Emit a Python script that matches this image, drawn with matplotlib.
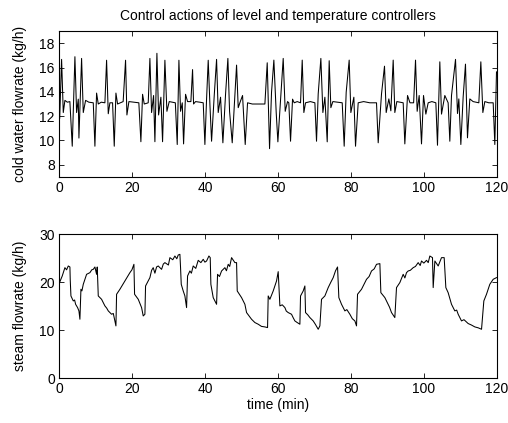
import numpy as np
import matplotlib
matplotlib.use("Agg")
import matplotlib.pyplot as plt

plt.rcParams['font.family'] = ['Liberation Sans', 'DejaVu Sans']
plt.rcParams['font.size'] = 10

# cold water flowrate (level controller output)
cold_t = [0, 0.2, 0.73, 1.19, 1.64, 2.3, 3.0,
          3.65, 4.38, 4.84, 5.3, 5.48, 6.21, 6.67, 7.31, 8.2, 9.41,
          9.86, 10.32, 10.78, 11.6, 12.6, 13.06, 13.52, 13.97, 14.7, 15.16, 15.62, 16.07,
          17.6, 18.26, 18.63, 19.18, 20.5, 21.9, 22.46, 22.92, 23.38,
          24.47, 24.93, 25.39, 25.94, 26.3, 26.85, 27.31, 27.94, 28.4, 29.04, 29.59, 30.23,
          31.9, 32.42, 32.88, 33.33, 33.8, 34.16, 34.7, 35.25,
          36.16, 36.62, 36.9, 37.44, 38.6, 39.54, 40.0, 40.46, 40.91, 41.37, 41.83, 42.56,
          43.2, 43.65, 44.29, 44.93, 45.66, 46.3, 46.76, 47.49, 48.22, 48.68, 49.13,
          49.7, 50.32, 51.05, 51.69, 53.0, 56.44, 57.08, 57.72, 58.26, 58.9, 59.54, 60.0,
          60.82, 61.46, 62.01, 62.65, 63.0, 63.47, 64.02, 64.48, 65.3, 66.21, 66.67, 67.12, 67.58,
          68.9, 70.14, 70.59, 71.05, 71.78, 72.33, 72.88, 73.52, 74.06, 74.52, 75.07,
          76.4, 77.63, 78.17, 78.72, 79.54, 80.0, 80.82, 81.28, 82.01,
          83.5, 85.2, 87.03, 87.49, 88.4, 89.22, 89.68, 90.41, 90.96, 91.6, 92.05, 92.6,
          94.34, 94.79, 95.53, 96.2, 97.2, 97.72, 98.17, 98.72, 99.36, 99.91, 100.55, 101.19,
          102.2, 103.29, 103.74, 104.38, 104.84, 105.75, 106.66, 107.12, 107.58, 108.68, 109.22,
          109.59, 110.14, 110.77, 111.41, 111.96, 112.6, 113.5, 115.07, 115.62, 116.17,
          116.71, 117.8, 119.0, 119.45, 119.91]
cold_v = [13.0, 11.8, 16.67, 12.3, 13.3, 13.15, 13.2,
          9.53, 16.89, 12.3, 13.4, 10.2, 16.75, 12.3, 13.3, 13.15, 13.1,
          9.53, 13.9, 13.0, 13.15, 13.1, 16.6, 12.2, 13.1, 13.1, 9.53, 13.9, 13.0,
          13.2, 16.6, 12.1, 13.2, 13.15, 13.1, 9.9, 13.8, 13.0,
          13.1, 16.75, 12.3, 13.7, 9.9, 17.17, 12.1, 13.56, 9.9, 16.6, 12.4, 13.2,
          13.1, 9.67, 16.6, 12.4, 13.1, 9.72, 13.8, 13.2,
          13.2, 15.83, 13.0, 13.2, 13.15, 13.1, 9.67, 13.4, 16.6, 13.0, 9.94, 13.7,
          16.67, 12.3, 13.56, 9.81, 13.8, 16.75, 12.4, 9.81, 13.8, 16.2, 12.7,
          13.2, 13.7, 9.67, 13.1, 13.0, 13.0, 16.39, 9.33, 13.97, 16.61, 12.3, 9.89,
          13.8, 16.75, 12.4, 13.2, 13.1, 9.94, 13.4, 13.1, 13.2, 13.1, 16.61, 12.3, 13.1,
          13.2, 13.1, 9.94, 13.83, 16.75, 12.3, 13.56, 9.89, 16.56, 12.7, 13.2,
          13.15, 13.1, 9.53, 13.97, 16.61, 12.3, 13.56, 9.53, 13.1,
          13.2, 13.1, 13.1, 9.81, 13.83, 16.11, 12.3, 13.42, 12.44, 16.61, 12.3, 13.2,
          13.1, 9.72, 13.7, 13.1, 13.1, 16.61, 12.4, 13.7, 9.72, 13.7, 12.17, 13.1,
          13.2, 13.1, 9.61, 16.47, 12.17, 13.7, 13.1, 9.94, 13.7, 16.67, 12.22,
          13.42, 9.67, 13.56, 16.28, 10.22, 13.42, 13.2, 13.1, 16.47, 12.3,
          13.2, 13.1, 13.1, 9.67, 15.64]

# steam flowrate (temperature controller output)
steam_t = [0, 0.27, 0.9, 1.64, 2.1, 2.56, 3.01,
           3.1, 3.29, 3.93, 4.3, 4.57, 5.11, 5.48, 5.75,
           6.03, 6.3, 6.67, 7.58, 8.49, 9.0, 9.41, 9.86, 10.32, 10.5,
           10.78, 11.69, 12.6, 13.1, 13.52, 14.43, 14.9, 15.34, 15.62,
           15.8, 16.71, 18.08, 19.45, 20.0, 20.55,
           20.73, 21.74, 22.65, 23.1, 23.56,
           23.74, 24.93, 25.4, 25.84, 26.3, 26.76, 27.21, 28.13, 28.6,
           29.04, 30.0, 30.41, 31.2, 31.78, 32.3, 32.69, 33.15,
           33.33, 33.52, 34.06, 34.52, 34.98,
           35.25, 35.89, 36.3, 36.8, 37.5, 38.17, 38.9, 39.54, 40.0, 40.46, 41.1, 41.46,
           41.64, 42.28, 43.2,
           43.47, 44.0, 44.57, 45.48, 45.9, 46.39, 46.8, 47.31, 48.22, 48.68,
           48.86, 50.05, 50.96, 51.42, 52.1, 52.78, 53.7, 54.61, 55.5, 56.44, 57.17,
           57.35, 57.81, 58.72, 59.63, 60.09,
           60.55, 61.2, 61.92, 62.3, 62.83, 63.74, 64.2, 64.66, 65.3, 66.03,
           66.21, 66.94, 67.4,
           67.58, 68.2, 68.77, 69.68, 70.3, 71.05, 71.51,
           71.96, 72.88, 73.79, 74.5, 75.16, 75.8, 76.35,
           76.71, 77.44, 78.36, 78.9, 79.73, 80.4, 81.1, 81.55,
           81.83, 82.92, 84.29, 85.0, 85.66, 86.4, 87.03, 87.95,
           88.22, 89.32, 90.23, 90.6, 91.14, 92.05,
           92.51, 93.42, 94.34, 94.8, 95.25, 95.71, 96.3, 97.08, 97.7, 98.45, 99.0,
           99.36, 100.0, 100.73, 101.2, 101.64, 102.37,
           102.56, 103.02, 103.93, 104.4, 104.84, 105.57,
           106.03, 106.66, 107.58, 108.49, 109.0, 109.41, 110.32, 111.0, 112.15, 113.0,
           113.98, 114.9, 115.81,
           116.44, 117.17, 118.08, 119.0, 119.91]
steam_v = [19.8, 20.14, 21.3, 23.05, 22.6, 23.4, 23.19,
           20.5, 17.15, 16.11, 16.3, 15.41, 14.72, 14.03, 12.29,
           18.54, 18.2, 19.58, 21.66, 22.01, 22.6, 22.7, 23.19, 21.66, 23.19,
           17.15, 16.45, 15.07, 14.6, 14.03, 13.33, 13.5, 11.94, 10.9,
           17.5, 18.54, 20.27, 22.01, 22.6, 23.75,
           17.5, 16.45, 14.72, 12.98, 13.33,
           19.23, 20.97, 22.5, 23.05, 21.9, 23.2, 23.4, 22.7, 23.8,
           24.1, 23.6, 25.14, 24.7, 25.48, 24.9, 25.69, 25.83,
           23.05, 19.58, 18.19, 17.15, 14.72,
           21.32, 22.36, 21.9, 23.4, 22.9, 24.58, 24.1, 24.79, 24.2, 24.44, 25.48, 25.14,
           19.58, 16.8, 15.41,
           21.66, 21.2, 22.36, 23.05, 22.4, 23.75, 23.3, 25.14, 24.1, 24.1,
           18.19, 16.8, 15.41, 13.68, 13.0, 12.29, 11.6, 11.25, 10.8, 10.69, 10.55,
           17.15, 16.45, 18.19, 20.27, 22.22,
           15.07, 15.3, 14.72, 14.0, 13.68, 13.33, 12.6, 11.94, 11.6, 11.25,
           17.15, 18.19, 19.23,
           13.68, 13.2, 12.64, 11.94, 11.2, 10.2, 10.9,
           16.45, 17.15, 18.89, 20.0, 20.97, 22.4, 23.19,
           16.8, 15.41, 14.03, 14.3, 13.33, 12.4, 11.94, 10.9,
           17.5, 18.54, 20.62, 21.2, 22.36, 22.8, 23.75, 23.89,
           17.84, 16.8, 15.41, 14.8, 13.68, 12.64,
           18.89, 19.93, 21.66, 20.9, 22.01, 22.36, 22.5, 23.05, 23.3, 24.1, 23.5,
           24.44, 24.0, 24.58, 24.1, 25.48, 25.14,
           18.89, 24.44, 23.4, 24.3, 25.14, 25.14,
           18.89, 17.84, 15.41, 14.03, 14.2, 13.33, 11.94, 12.2, 11.39, 11.1,
           10.69, 10.5, 10.2,
           16.11, 17.5, 19.58, 20.62, 20.97]

fig = plt.figure(figsize=(5.08, 4.23), dpi=100)
ax1 = fig.add_axes([0.116, 0.5816, 0.862, 0.345])
ax2 = fig.add_axes([0.116, 0.106, 0.862, 0.340])

ax1.plot(cold_t, cold_v, color='k', lw=0.75)
ax1.set_xlim(0, 120)
ax1.set_ylim(7, 19)
ax1.set_yticks([8, 10, 12, 14, 16, 18])
ax1.set_xticks([0, 20, 40, 60, 80, 100, 120])
ax1.set_ylabel('cold water flowrate (kg/h)')
ax1.set_title('Control actions of level and temperature controllers', fontsize=10, pad=8)

ax2.plot(steam_t, steam_v, color='k', lw=0.75)
ax2.set_xlim(0, 120)
ax2.set_ylim(0, 30)
ax2.set_yticks([0, 10, 20, 30])
ax2.set_xticks([0, 20, 40, 60, 80, 100, 120])
ax2.set_ylabel('steam flowrate (kg/h)')
ax2.set_xlabel('time (min)', labelpad=1)

for ax in (ax1, ax2):
    ax.tick_params(direction='in', top=True, right=True, length=3.5, width=0.6, pad=3)
    ax.yaxis.set_label_coords(-0.072, 0.5)
    for s in ax.spines.values():
        s.set_linewidth(0.8)

fig.savefig('out.png', dpi=100)
